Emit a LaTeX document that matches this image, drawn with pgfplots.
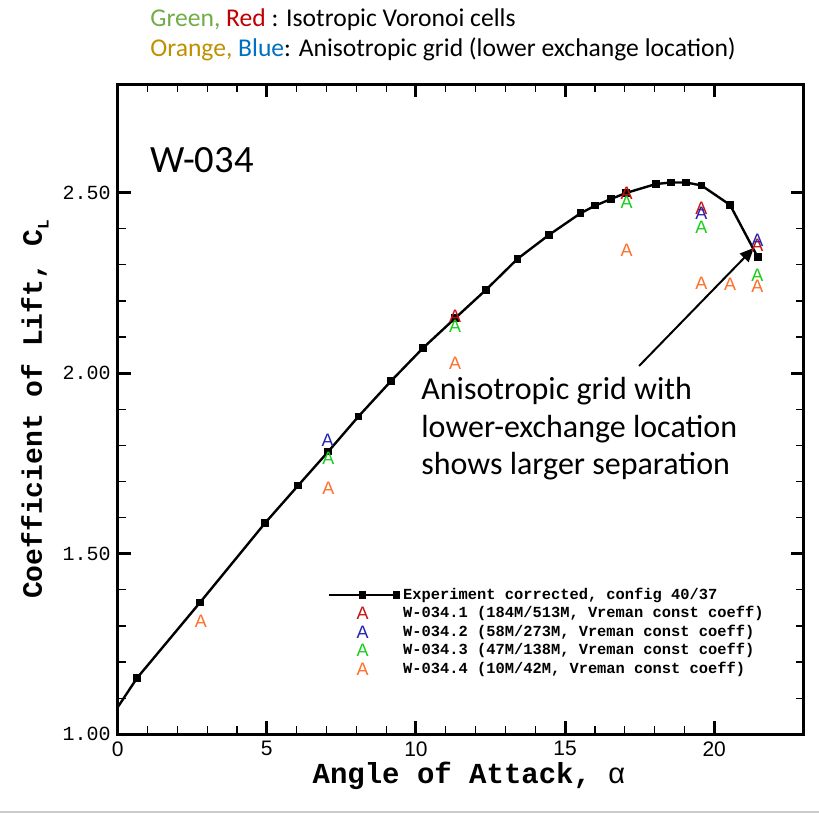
\documentclass[border=0pt]{standalone}
\usepackage{fontspec}
\setmainfont{Carlito}
\setsansfont{Liberation Sans}
\setmonofont{Liberation Mono}
\usepackage{pgfplots}
\pgfplotsset{compat=1.18}
\usetikzlibrary{arrows.meta}

\definecolor{cRed}{RGB}{200,16,16}
\definecolor{cBlue}{RGB}{35,35,175}
\definecolor{cGreen}{RGB}{25,205,25}
\definecolor{cOrange}{RGB}{255,110,40}
\definecolor{tGreen}{RGB}{112,173,71}
\definecolor{tRed}{RGB}{192,0,0}
\definecolor{tOrange}{RGB}{191,144,0}
\definecolor{tBlue}{RGB}{0,112,192}

% experiment, config 40/37 (first row only starts the line at the axis)
\pgfplotstableread{
aoa cl
0.00 1.075
0.65 1.156
2.76 1.365
4.94 1.585
6.05 1.689
7.06 1.783
8.07 1.880
9.16 1.978
10.24 2.070
11.31 2.152
12.35 2.231
13.41 2.317
14.46 2.383
15.52 2.443
16.01 2.464
16.53 2.482
17.04 2.499
18.05 2.524
18.56 2.528
19.06 2.528
19.57 2.520
20.53 2.466
21.46 2.321
}\expdata

\pgfplotstableread{
aoa cl
11.31 2.157
17.06 2.499
19.57 2.457
21.45 2.353
}\wone

\pgfplotstableread{
aoa cl
7.04 1.813
19.57 2.443
21.45 2.369
}\wtwo

\pgfplotstableread{
aoa cl
7.06 1.765
11.31 2.129
17.06 2.474
19.57 2.403
21.45 2.270
}\wthree

\pgfplotstableread{
aoa cl
2.79 1.313
7.06 1.680
11.31 2.026
17.06 2.341
19.57 2.249
20.53 2.245
21.45 2.240
}\wfour

\pgfplotsset{
  lim/.style={legend image code/.code={%
    \path[draw=none, fill=none] (0pt,0pt) -- (34pt,0pt);
    \draw[mark repeat=2,mark phase=2,##1] plot coordinates {(0pt,0pt) (17pt,0pt) (34pt,0pt)};}},
  amark/.style={only marks, mark=text,
    text mark={\sffamily\fontsize{9}{9}\selectfont\textcolor{#1}{A}},
    legend image code/.code={%
      \path[draw=none, fill=none] (0pt,0pt) -- (34pt,0pt);
      \draw[##1, draw=none, only marks, mark repeat=2, mark phase=2] plot coordinates {(0pt,0pt) (17pt,0pt) (34pt,0pt)};}},
}

\begin{document}
\begin{tikzpicture}
\begin{axis}[
    at={(0pt,0pt)}, anchor=south west,
    scale only axis, width=343pt, height=325pt,
    xmin=0, xmax=23, ymin=1, ymax=2.8,
    xtick={0,5,10,15,20}, ytick={1,1.5,2,2.5},
    minor x tick num=4, minor y tick num=4,
    tick align=inside, xtick pos=both, ytick pos=both,
    major tick length=6.5pt, minor tick length=4pt,
    major tick style={line width=1.5pt, black},
    minor tick style={line width=0.6pt, black},
    axis line style={line width=1.5pt},
    xticklabel style={font=\sffamily\fontsize{10.5}{12}\selectfont,
        /pgf/number format/assume math mode=true},
    yticklabel style={font=\ttfamily\fontsize{10}{12}\selectfont,
        /pgf/number format/.cd, fixed, fixed zerofill, precision=2, assume math mode=true},
    xlabel={Angle of Attack, {\sffamily\mdseries α}},
    ylabel={Coefficient of Lift, C\raisebox{-0.45ex}{\fontsize{8}{8}\selectfont L}},
    every axis x label/.style={at={(axis description cs:0.512,-0.075)}, anchor=base,
        font=\ttfamily\bfseries\fontsize{14.5}{16}\selectfont},
    every axis y label/.style={at={(axis description cs:-0.1206,0.5)}, rotate=90, anchor=center,
        font=\ttfamily\bfseries\fontsize{14}{16}\selectfont},
    legend style={at={(axis description cs:0.3051,0.2267)}, anchor=north west,
        draw=none, fill=none, inner sep=0pt, row sep=1.5pt,
        nodes={inner ysep=0pt, text height=6pt, text depth=1.75pt},
        font=\ttfamily\bfseries\fontsize{7.7}{9.25}\selectfont},
    legend cell align=left,
]
\addplot[black, line width=1.2pt, mark=square*, mark size=1.3pt,
    mark indices={2,3,4,5,6,7,8,9,10,11,12,13,14,15,16,17,18,19,20,21,22,23}, lim]
    table[x=aoa, y=cl] {\expdata};
\addlegendentry{Experiment corrected, config 40/37}
\addplot[amark=cRed] table[x=aoa, y=cl] {\wone};
\addlegendentry{W-034.1 (184M/513M, Vreman const coeff)}
\addplot[amark=cBlue] table[x=aoa, y=cl] {\wtwo};
\addlegendentry{W-034.2 (58M/273M, Vreman const coeff)}
\addplot[amark=cGreen] table[x=aoa, y=cl] {\wthree};
\addlegendentry{W-034.3 (47M/138M, Vreman const coeff)}
\addplot[amark=cOrange] table[x=aoa, y=cl] {\wfour};
\addlegendentry{W-034.4 (10M/42M, Vreman const coeff)}

\draw[-{Triangle[length=7pt,width=6pt]}, line width=1pt]
    (axis cs:17.48,2.02) -- (axis cs:21.33,2.347);
\end{axis}

\node[anchor=base west, inner sep=0pt, font=\fontsize{12.8}{15}\selectfont]
    at (16.15pt,353.9pt) {\textcolor{tGreen}{Green,} \textcolor{tRed}{Red} : Isotropic Voronoi cells};
\node[anchor=base west, inner sep=0pt, font=\fontsize{12.8}{15}\selectfont]
    at (16.15pt,338.9pt) {\textcolor{tOrange}{Orange,} \textcolor{tBlue}{Blue}: Anisotropic grid (lower exchange location)};
\node[anchor=base west, inner sep=0pt, font=\fontsize{19.3}{22}\selectfont]
    at (16.15pt,280.65pt) {W-034};
\node[anchor=base west, inner sep=0pt, font=\fontsize{16}{19}\selectfont]
    at (151.65pt,167.15pt) {Anisotropic grid with};
\node[anchor=base west, inner sep=0pt, font=\fontsize{16}{19}\selectfont]
    at (151.65pt,148.15pt) {lower-exchange location};
\node[anchor=base west, inner sep=0pt, font=\fontsize{16}{19}\selectfont]
    at (151.65pt,129.65pt) {shows larger separation};

\draw[gray!40, line width=0.75pt] (-58.85pt,-38.85pt) -- (350.5pt,-38.85pt);

\pgfresetboundingbox
\path[use as bounding box] (-58.85pt,-44.35pt) rectangle (350.5pt,367.15pt);
\end{tikzpicture}
\end{document}
